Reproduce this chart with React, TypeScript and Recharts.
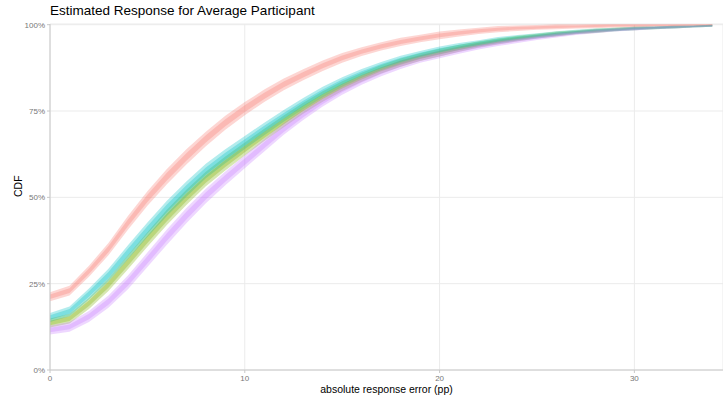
import React from "react"
import { ComposedChart, Area, XAxis, YAxis, CartesianGrid } from "recharts"

// absolute response error (pp), integer steps
const errors = [
  0, 1, 2, 3, 4, 5, 6, 7, 8, 9, 10, 11, 12, 13, 14, 15, 16, 17, 18, 19, 20,
  21, 22, 23, 24, 25, 26, 27, 28, 29, 30, 31, 32, 33, 34,
]

const redCdf = [
  0.212, 0.23, 0.286, 0.35, 0.426, 0.497, 0.56, 0.617, 0.669, 0.716, 0.757,
  0.794, 0.827, 0.855, 0.881, 0.904, 0.922, 0.937, 0.95, 0.96, 0.969,
  0.976, 0.982, 0.987, 0.99, 0.992, 0.994, 0.995, 0.996, 0.997, 0.997, 0.998, 0.998, 0.999, 0.999,
]
const greenCdf = [
  0.136, 0.149, 0.193, 0.247, 0.312, 0.378, 0.442, 0.5, 0.553, 0.598, 0.64,
  0.681, 0.72, 0.758, 0.792, 0.822, 0.848, 0.871, 0.89, 0.906, 0.919,
  0.932, 0.943, 0.952, 0.96, 0.967, 0.973, 0.978, 0.982, 0.986, 0.989, 0.991, 0.993, 0.995, 0.997,
]
const cyanCdf = [
  0.152, 0.17, 0.22, 0.275, 0.341, 0.406, 0.468, 0.524, 0.576, 0.619, 0.659,
  0.698, 0.736, 0.772, 0.805, 0.834, 0.859, 0.88, 0.898, 0.913, 0.926,
  0.937, 0.946, 0.955, 0.962, 0.968, 0.974, 0.979, 0.983, 0.986, 0.989, 0.991, 0.993, 0.995, 0.997,
]
const purpleCdf = [
  0.116, 0.125, 0.155, 0.198, 0.254, 0.319, 0.385, 0.447, 0.504, 0.555, 0.603,
  0.651, 0.698, 0.74, 0.778, 0.811, 0.839, 0.863, 0.884, 0.901, 0.914,
  0.926, 0.937, 0.947, 0.955, 0.963, 0.97, 0.976, 0.981, 0.985, 0.988, 0.991, 0.993, 0.995, 0.997,
]

// half-width of the uncertainty ribbon
const ribbonHalf = [
  0.013, 0.014, 0.016, 0.018, 0.02, 0.021, 0.022, 0.022, 0.021, 0.02, 0.019,
  0.018, 0.017, 0.016, 0.015, 0.014, 0.013, 0.012, 0.012, 0.011, 0.011,
  0.01, 0.009, 0.009, 0.008, 0.007, 0.007, 0.006, 0.006, 0.005, 0.005, 0.004, 0.004, 0.003, 0.003,
]

const xTicks = [0, 10, 20, 30]
const yTicks = [0, 0.25, 0.5, 0.75, 1]

const series = [
  { key: "red", values: redCdf, color: "#F8766D" },
  { key: "green", values: greenCdf, color: "#7CAE00" },
  { key: "cyan", values: cyanCdf, color: "#00BFC4" },
  { key: "purple", values: purpleCdf, color: "#C77CFF" },
]

const data = errors.map((x, i) => {
  const row: Record<string, number | number[]> = { x }
  series.forEach((s) => {
    const v = s.values[i]
    const h = ribbonHalf[i]
    row[s.key] = [v - h, v + h]
    row[s.key + "In"] = [v - h * 0.5, v + h * 0.5]
  })
  return row
})

const font = "'Liberation Sans', Arial, sans-serif"

export default function App() {
  return (
    <div style={{ position: "absolute", left: 0, top: 0, width: 723, height: 399, fontFamily: font, background: "#fff" }}>
      <div style={{ position: "absolute", left: 50, top: 3, fontSize: 13.5, color: "#000", whiteSpace: "nowrap" }}>
        Estimated Response for Average Participant
      </div>
      <ComposedChart width={723} height={399} data={data} margin={{ top: 24, right: 0, bottom: 0, left: 0 }}>
        <CartesianGrid stroke="#ebebeb" strokeWidth={1} />
        <XAxis
          dataKey="x"
          type="number"
          domain={[0, 34.55]}
          ticks={xTicks}
          allowDataOverflow
          height={29}
          tickSize={3}
          stroke="#c8c8c8"
          tick={{ fontSize: 8, fill: "#777", fontFamily: font }}
          label={{ value: "absolute response error (pp)", position: "insideBottom", offset: 6, fontSize: 10.5, fill: "#000", fontFamily: font }}
        />
        <YAxis
          type="number"
          domain={[0, 1]}
          ticks={yTicks}
          width={50}
          tickSize={3}
          stroke="#c8c8c8"
          tickFormatter={(v: number) => `${Math.round(v * 100)}%`}
          tick={{ fontSize: 8, fill: "#777", fontFamily: font }}
          label={{ value: "CDF", angle: -90, position: "insideLeft", offset: 18, fontSize: 10.5, fill: "#000", fontFamily: font }}
        />
        {series.map((s) => (
          <Area
            key={s.key}
            dataKey={s.key}
            type="linear"
            stroke="none"
            fill={s.color}
            fillOpacity={0.3}
            dot={false}
            activeDot={false}
            isAnimationActive={false}
          />
        ))}
        {series.map((s) => (
          <Area
            key={s.key + "In"}
            dataKey={s.key + "In"}
            type="linear"
            stroke="none"
            fill={s.color}
            fillOpacity={0.3}
            dot={false}
            activeDot={false}
            isAnimationActive={false}
          />
        ))}
      </ComposedChart>
    </div>
  )
}
